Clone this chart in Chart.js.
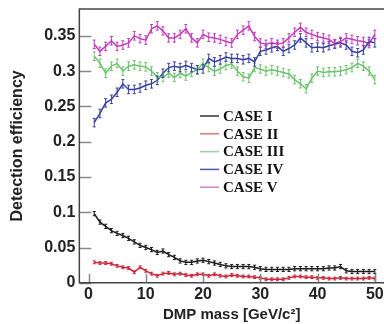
<!DOCTYPE html>
<html>
<head>
<meta charset="utf-8">
<script src="https://cdn.jsdelivr.net/npm/chart.js@4"></script>
<style>
  html, body { margin: 0; padding: 0; background: #fff; }
  #wrap { position: relative; width: 384px; height: 324px; }
</style>
</head>
<body>
<div id="wrap"><canvas id="eff-chart"></canvas></div>
<script>
// DMP mass points (GeV/c^2)
var masses = [];
for (var m = 1; m <= 50; m++) masses.push(m);

var seriesNames = ["CASE I", "CASE II", "CASE III", "CASE IV", "CASE V"];
var seriesColors = ["#1a1a1a", "#c8283c", "#6cc46c", "#3a40a0", "#c23cbc"];
var legendColors = ["#333333", "#e07878", "#9ad49a", "#4a58a8", "#d880c8"];

var caseI = [0.098, 0.086, 0.080, 0.074, 0.070, 0.067, 0.063, 0.058, 0.053, 0.050,
  0.047, 0.043, 0.045, 0.040, 0.036, 0.031, 0.029, 0.029, 0.031, 0.032,
  0.030, 0.028, 0.026, 0.024, 0.023, 0.023, 0.023, 0.023, 0.022, 0.020,
  0.019, 0.019, 0.019, 0.019, 0.019, 0.020, 0.020, 0.020, 0.020, 0.020,
  0.020, 0.021, 0.021, 0.023, 0.017, 0.016, 0.016, 0.016, 0.016, 0.016];
var caseII = [0.029, 0.028, 0.028, 0.027, 0.024, 0.022, 0.021, 0.015, 0.022, 0.017,
  0.013, 0.010, 0.013, 0.014, 0.012, 0.013, 0.011, 0.010, 0.012, 0.012,
  0.010, 0.012, 0.010, 0.009, 0.011, 0.010, 0.009, 0.009, 0.008, 0.007,
  0.005, 0.005, 0.005, 0.005, 0.007, 0.009, 0.009, 0.008, 0.008, 0.007,
  0.007, 0.006, 0.006, 0.007, 0.006, 0.006, 0.006, 0.006, 0.007, 0.006];
var caseIII = [0.321, 0.311, 0.297, 0.307, 0.311, 0.300, 0.307, 0.309, 0.307, 0.306,
  0.300, 0.292, 0.291, 0.297, 0.291, 0.297, 0.293, 0.298, 0.302, 0.311,
  0.305, 0.300, 0.303, 0.308, 0.310, 0.300, 0.292, 0.290, 0.305, 0.303,
  0.300, 0.302, 0.300, 0.298, 0.296, 0.288, 0.282, 0.275, 0.290, 0.300,
  0.298, 0.299, 0.299, 0.300, 0.302, 0.305, 0.311, 0.307, 0.300, 0.288];
var caseIV = [0.227, 0.240, 0.255, 0.260, 0.270, 0.282, 0.274, 0.274, 0.276, 0.280,
  0.282, 0.287, 0.297, 0.305, 0.307, 0.305, 0.308, 0.305, 0.302, 0.303,
  0.318, 0.313, 0.316, 0.320, 0.318, 0.318, 0.316, 0.318, 0.313, 0.328,
  0.330, 0.333, 0.335, 0.328, 0.332, 0.337, 0.347, 0.340, 0.333, 0.334,
  0.333, 0.336, 0.338, 0.340, 0.337, 0.328, 0.326, 0.330, 0.342, 0.340];
var caseV = [0.338, 0.328, 0.335, 0.343, 0.335, 0.337, 0.340, 0.350, 0.346, 0.344,
  0.360, 0.364, 0.357, 0.347, 0.347, 0.352, 0.360, 0.347, 0.340, 0.352,
  0.348, 0.347, 0.345, 0.342, 0.340, 0.352, 0.358, 0.364, 0.349, 0.340,
  0.338, 0.340, 0.338, 0.340, 0.347, 0.355, 0.362, 0.355, 0.352, 0.349,
  0.347, 0.345, 0.339, 0.342, 0.347, 0.345, 0.343, 0.342, 0.339, 0.352];
// half-size of the error bars per series
var errorSizes = [0.003, 0.002, 0.006, 0.006, 0.006];

var xTicks = [0, 10, 20, 30, 40, 50];
var yTicks = [0, 0.05, 0.1, 0.15, 0.2, 0.25, 0.3, 0.35];

var allValues = [caseI, caseII, caseIII, caseIV, caseV];
var datasets = allValues.map(function (vals, i) {
  return {
    label: seriesNames[i],
    data: vals.map(function (v, k) { return { x: masses[k], y: v }; }),
    borderColor: seriesColors[i],
    borderWidth: 1.5,
    pointRadius: 0,
    tension: 0,
    errSize: errorSizes[i]
  };
});

// error bars, frame, inward ticks and the legend box
var extras = {
  id: "extras",
  afterDatasetsDraw: function (chart) {
    var ctx = chart.ctx, xs = chart.scales.x, ys = chart.scales.y, a = chart.chartArea;
    ctx.save();
    chart.data.datasets.forEach(function (ds) {
      ctx.strokeStyle = ds.borderColor;
      ctx.lineWidth = 1;
      ds.data.forEach(function (p) {
        var px = xs.getPixelForValue(p.x);
        var y1 = ys.getPixelForValue(p.y - ds.errSize);
        var y2 = ys.getPixelForValue(p.y + ds.errSize);
        ctx.beginPath();
        ctx.moveTo(px, y1); ctx.lineTo(px, y2);
        ctx.moveTo(px - 1.5, y1); ctx.lineTo(px + 1.5, y1);
        ctx.moveTo(px - 1.5, y2); ctx.lineTo(px + 1.5, y2);
        ctx.stroke();
      });
    });
    // inward ticks
    ctx.strokeStyle = "#888";
    ctx.lineWidth = 1.5;
    yTicks.forEach(function (v) {
      var py = Math.round(ys.getPixelForValue(v)) + 0.5;
      ctx.beginPath(); ctx.moveTo(a.left, py); ctx.lineTo(a.left + 12, py); ctx.stroke();
    });
    xTicks.forEach(function (v) {
      var px = Math.round(xs.getPixelForValue(v)) + 0.5;
      ctx.beginPath(); ctx.moveTo(px, a.bottom); ctx.lineTo(px, a.bottom - 9); ctx.stroke();
    });
    // frame: top, left and bottom lines, open on the right
    ctx.strokeStyle = "#444";
    ctx.lineWidth = 1.5;
    ctx.beginPath();
    ctx.moveTo(chart.width, a.top); ctx.lineTo(a.left, a.top);
    ctx.lineTo(a.left, a.bottom); ctx.lineTo(chart.width, a.bottom);
    ctx.stroke();
    // legend
    ctx.font = "bold 15px 'Liberation Serif', serif";
    ctx.textBaseline = "middle";
    seriesNames.forEach(function (name, i) {
      var ly = 116 + i * 17.8;
      ctx.strokeStyle = legendColors[i];
      ctx.lineWidth = 1.5;
      ctx.beginPath(); ctx.moveTo(200, ly); ctx.lineTo(219, ly); ctx.stroke();
      ctx.fillStyle = "#111";
      ctx.fillText(name, 223, ly + 1);
    });
    ctx.restore();
  }
};

var sans = "'Liberation Sans', Arial, sans-serif";

new Chart(document.getElementById("eff-chart").getContext("2d"), {
  type: "line",
  data: { datasets: datasets },
  options: {
    responsive: true,
    maintainAspectRatio: false,
    animation: false,
    events: [],
    layout: { padding: { top: 9, right: 0, left: 8, bottom: 0 } },
    plugins: { legend: { display: false }, tooltip: { enabled: false } },
    scales: {
      x: {
        type: "linear",
        min: -1.6,
        max: 51.6,
        afterBuildTicks: function (s) { s.ticks = xTicks.map(function (v) { return { value: v }; }); },
        afterFit: function (s) { s.paddingRight = 0; s.paddingLeft = 0; },
        grid: { display: false, drawTicks: false },
        border: { display: false },
        ticks: {
          color: "#222",
          padding: 2,
          maxRotation: 0,
          font: { family: sans, size: 16, weight: "bold" }
        },
        title: {
          display: true,
          text: "DMP mass [GeV/c\u00b2]",
          color: "#222",
          padding: { top: 0, bottom: 0 },
          font: { family: sans, size: 15, weight: "bold" }
        }
      },
      y: {
        min: 0,
        max: 0.388,
        afterBuildTicks: function (s) { s.ticks = yTicks.map(function (v) { return { value: v }; }); },
        afterFit: function (s) { s.paddingTop = 0; s.paddingBottom = 0; },
        grid: { display: false, drawTicks: false },
        border: { display: false },
        ticks: {
          color: "#222",
          padding: 4,
          callback: function (v) { return String(Number(v.toFixed(2))); },
          font: { family: sans, size: 16, weight: "bold" }
        },
        title: {
          display: true,
          text: "Detection efficiency",
          color: "#222",
          padding: { top: 0, bottom: 13 },
          font: { family: sans, size: 16, weight: "bold" }
        }
      }
    }
  },
  plugins: [extras]
});
</script>
</body>
</html>
